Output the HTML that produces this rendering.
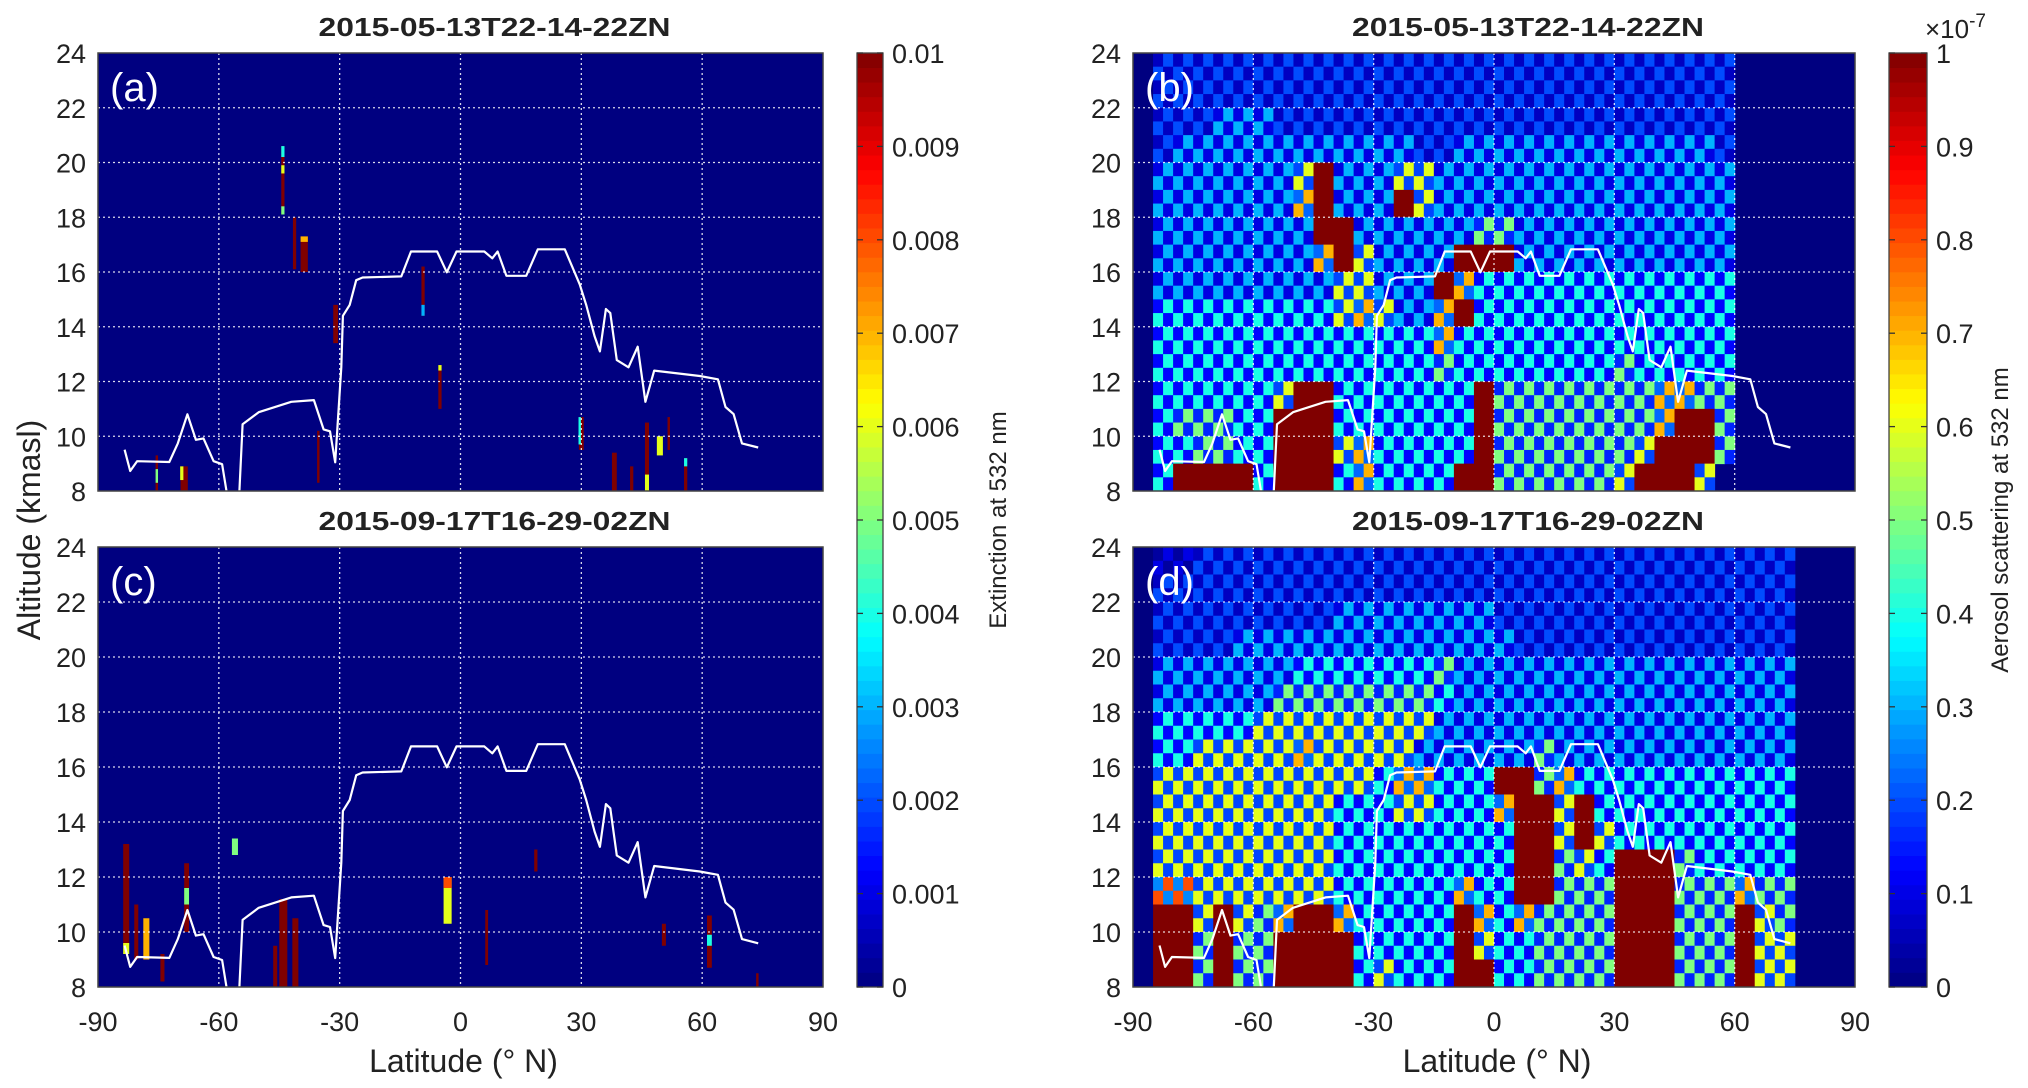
<!DOCTYPE html>
<html><head><meta charset="utf-8"><style>
html,body{margin:0;padding:0;background:#fff}
svg{display:block}
text{font-family:"Liberation Sans",Arial,sans-serif;fill:#222}
</style></head><body>
<svg id="fig" xmlns="http://www.w3.org/2000/svg" width="2028" height="1088" viewBox="0 0 2028 1088">
<defs>
<clipPath id="cpA"><rect x="98" y="53" width="725" height="438"/></clipPath>
<clipPath id="cpB"><rect x="1133" y="53" width="722" height="438"/></clipPath>
<clipPath id="cpC"><rect x="98" y="547" width="725" height="440"/></clipPath>
<clipPath id="cpD"><rect x="1133" y="547" width="722" height="440"/></clipPath>
</defs>
</svg>
<script>
// ---- data ----
const latTicks = [-90,-60,-30,0,30,60,90];
const altTicks = [8,10,12,14,16,18,20,22,24];
const cbTicksA = ["0","0.001","0.002","0.003","0.004","0.005","0.006","0.007","0.008","0.009","0.01"];
const cbTicksB = ["0","0.1","0.2","0.3","0.4","0.5","0.6","0.7","0.8","0.9","1"];
// tropopause line [lat, alt]
const tropLat = [-83.4,-82,-80.3,-72.3,-70.2,-67.8,-65.7,-63.8,-61.3,-59.2,-58.1,-57.5,-55.5,-54.9,-54.1,-50.1,-42,-36.4,-34,-32.4,-31.1,-29.6,-29.2,-27.5,-25.9,-24.3,-14.7,-12.3,-5.8,-3.4,-1,5.9,7.9,9.2,11.4,16.3,19.2,25.9,29.6,31.2,33.3,34.6,36.1,37.2,38.8,41.7,44,45.9,48.1,59.4,63.9,65.8,67.8,69.9,73.9];
const tropAlt = [9.51,8.73,9.09,9.06,9.74,10.8,9.87,9.92,9.09,8.98,8,7.5,7.5,8,10.44,10.88,11.26,11.32,10.25,10.18,9.05,12.52,14.4,14.8,15.7,15.8,15.84,16.75,16.75,15.99,16.75,16.75,16.5,16.75,15.86,15.86,16.83,16.83,15.55,14.8,13.65,13.1,14.65,14.5,12.78,12.52,13.27,11.26,12.4,12.2,12.08,11.07,10.81,9.74,9.59];
// sparse extinction cells [lat, widthDeg, altLow, altHigh, level(0-10)]
const cellsA = [[-44.1,0.8,18.1,20.6,10],[-44.1,0.8,20.2,20.6,4],[-44.1,0.8,19.6,19.9,6],[-44.1,0.8,18.1,18.4,5],[-41.2,0.8,16.1,18,10],[-38.8,1.8,16,17.3,10],[-38.8,1.8,17.1,17.3,7],[-31,1.2,13.4,14.8,10],[-35.3,0.6,8.3,10.2,10],[-9.3,0.8,14.4,16.2,10],[-9.3,0.8,14.4,14.8,3],[-5.1,0.8,11,12.6,10],[-5.1,0.8,12.4,12.6,6],[-75.4,0.6,8,9.3,10],[-75.4,0.6,8.3,8.8,5],[-68.6,1.8,8,8.9,10],[-69.2,0.8,8.4,8.9,6],[30,1.2,9.5,10.7,10],[29.6,0.6,9.7,10.7,4],[38.2,1.2,8,9.4,10],[42.5,0.8,8,8.9,10],[46.3,1,8,10.5,10],[46.3,1,8,8.6,6],[49.5,1.5,9.3,10,6],[51.7,0.6,9.5,10.7,10],[55.9,0.8,8,9.2,10],[55.9,0.8,8.9,9.2,4]];
const cellsC = [[-83,1.5,9.5,13.2,10],[-83,1.5,9.2,9.6,6],[-80.5,1,9,11,10],[-78,1.5,9,10.5,7],[-74,1,8.2,9.2,10],[-68,1.2,10,12.5,10],[-68,1.2,11,11.6,5],[-56,1.5,12.8,13.4,5],[-44,2,8,11.2,10],[-41,1.5,8,10.5,10],[-46,1,8,9.5,10],[-3.2,2,10.3,12,6],[-3.2,2,11.6,12,8],[6.5,0.7,8.8,10.8,10],[18.7,0.8,12.2,13,10],[50.5,1,9.5,10.3,10],[61.8,1.2,8.7,10.6,10],[61.8,1.2,9.5,9.9,4],[73.7,0.6,8,8.5,10]];
// gridded aerosol scattering, rows 24->8 km (1 km), columns from -85 deg, 5 deg; digit = level, X = saturated
const gridB = [
"22222222222222222222222222222",
"22222222222222222222222222222",
"22233322222222222222222222222",
"23333333333332233333333333332",
"33333336X33366333333333333333",
"33333337X333X6333333333333333",
"33333333XX3333335533333333333",
"333333337X63333XXX33333333333",
"33333333366333X74444444444444",
"444444444676337X4444444444444",
"44444444444444744444444444444",
"44444444444444544444444544444",
"4444446XX4444444X555555557755",
"455544XXX4444444X555555557XX5",
"445544XXX6744444X55555556XXX5",
"4XXXX4XXX474444XX5555556XXX6"
];
const gridD = [
"11222222222222222222222222222222",
"22222222222222222222222222222222",
"22222222233333333222222222222222",
"22223333333333333322222222222222",
"33333334444444533333333333333333",
"33333355555555433333333333333333",
"44444666666666333333333333333333",
"44666667666663333335333333333333",
"66666666666477444XX5744444444444",
"666666666444664447XX6X4444444444",
"666666666444444444XX6X6444444444",
"666666666444444444XX564XXX544444",
"886666666444444744XX555XXX555755",
"XX6X657XX744444X7475555XXX555X65",
"XX5X55XXXX44444X6445555XXX555X66",
"XX5X55XXXX46444XX445555XXX555X66"
];
const PANELS = {
 a:{x0:98,x1:823,y0:53,y1:491,clip:"cpA",title:"2015-05-13T22-14-22ZN",tag:"(a)"},
 b:{x0:1133,x1:1855,y0:53,y1:491,clip:"cpB",title:"2015-05-13T22-14-22ZN",tag:"(b)"},
 c:{x0:98,x1:823,y0:547,y1:987,clip:"cpC",title:"2015-09-17T16-29-02ZN",tag:"(c)"},
 d:{x0:1133,x1:1855,y0:547,y1:987,clip:"cpD",title:"2015-09-17T16-29-02ZN",tag:"(d)"}
};
const NS="http://www.w3.org/2000/svg";
const svg=document.getElementById("fig");
function jet(v){v=Math.max(0,Math.min(1,v));
 const c=t=>Math.round(255*Math.max(0,Math.min(1,t)));
 return `rgb(${c(1.5-Math.abs(4*v-3))},${c(1.5-Math.abs(4*v-2))},${c(1.5-Math.abs(4*v-1))})`;}
function el(tag,attrs,parent){const e=document.createElementNS(NS,tag);for(const k in attrs)e.setAttribute(k,attrs[k]);(parent||svg).appendChild(e);return e;}
function txt(x,y,s,size,anchor,extra,parent){const t=el("text",Object.assign({x:x,y:y,"font-size":size,"text-anchor":anchor||"start"},extra||{}),parent);t.textContent=s;return t;}
function xs(p,lat){return p.x0+(lat+90)/180*(p.x1-p.x0);}
function ys(p,alt){return p.y1-(alt-8)/16*(p.y1-p.y0);}

for(const key in PANELS){
 const p=PANELS[key];
 const g=el("g",{});
 
 
 const bg=el("rect",{x:p.x0,y:p.y0,width:p.x1-p.x0,height:p.y1-p.y0,fill:jet(0)},g);
 
 
 const data=el("g",{"clip-path":`url(#${p.clip})`},g);
 
 
 const grid = key==="b"?gridB:key==="d"?gridD:null;
 if(grid){
  grid.forEach((row,r)=>{
   for(let i=0;i<row.length;i++){
    const ch=row[i];
    const la=-85+5*i, altTop=24-r;
    if(ch==="X"){
     const rc=el("rect",{x:xs(p,la),y:ys(p,altTop),width:xs(p,la+5)-xs(p,la)+0.5,height:ys(p,altTop-1)-ys(p,altTop)+0.5,fill:jet(1)},data);
     
     
     continue;
    }
    const v=(+ch)/14;
    if(!(v>0))continue;
    for(let sx=0;sx<2;sx++)for(let sy=0;sy<2;sy++){
     const f=((sx+sy)%2===0)?0.45:1.4;
     const l0=la+2.5*sx, a0=altTop-0.5*sy;
     const rc=el("rect",{x:xs(p,l0),y:ys(p,a0),width:xs(p,l0+2.5)-xs(p,l0)+0.5,height:ys(p,a0-0.5)-ys(p,a0)+0.5,fill:jet(v*f)},data);
     
     
    }
   }
  });
 } else {
  const cells = key==="a"?cellsA:cellsC;
  cells.forEach(c=>{
   const rc=el("rect",{x:xs(p,c[0]-c[1]/2),y:ys(p,c[3]),width:xs(p,c[0]+c[1]/2)-xs(p,c[0]-c[1]/2),height:ys(p,c[2])-ys(p,c[3]),fill:jet(c[4]/10)},data);
   
   
  });
 }
 latTicks.slice(1,-1).forEach(l=>{const ln=el("line",{x1:xs(p,l),x2:xs(p,l),y1:p.y0,y2:p.y1,stroke:"#fff","stroke-width":1.3,"stroke-dasharray":"2,3",opacity:0.85},g);
  });
 altTicks.slice(1,-1).forEach(a=>{const ln=el("line",{x1:p.x0,x2:p.x1,y1:ys(p,a),y2:ys(p,a),stroke:"#fff","stroke-width":1.3,"stroke-dasharray":"2,3",opacity:0.85},g);
  });
 const pts=tropLat.map((l,i)=>xs(p,l).toFixed(1)+","+ys(p,tropAlt[i]).toFixed(1)).join(" ");
 const tl=el("polyline",{points:pts,fill:"none",stroke:"#fff","stroke-width":2.2,"stroke-linejoin":"round","clip-path":`url(#${p.clip})`},g);
 
 
 const fr=el("rect",{x:p.x0,y:p.y0,width:p.x1-p.x0,height:p.y1-p.y0,fill:"none",stroke:"#444","stroke-width":1.5},g);
 
 
 altTicks.forEach(a=>{const t=txt(p.x0-12,ys(p,a)+10,String(a),27,"end",{},g);
  });
 if(key==="c"||key==="d"){
  latTicks.forEach(l=>{const t=txt(xs(p,l),1031,String(l),27,"middle",{},g);
   });
  const xl=txt((p.x0+p.x1)/2+3,1072,"Latitude (° N)",32,"middle",{},g);
  
 }
 const ti=txt((p.x0+p.x1)/2+34,p.y0-17,p.title,26,"middle",{"font-weight":"bold",textLength:352,lengthAdjust:"spacingAndGlyphs",fill:"#111"},g);
 
 const tg=txt(p.x0+12,p.y0+48,p.tag,40,"start",{fill:"#fff",style:"fill:#fff"},g);
 
}
const yl=txt(0,0,"Altitude (kmasl)",32,"middle",{transform:"translate(40,530) rotate(-90)"});



function colorbar(x0,x1,y0,y1,labels,name,title,titleX){
 const g=el("g",{});
 
 
 const n=64,h=(y1-y0)/n;
 for(let i=0;i<n;i++){el("rect",{x:x0,y:y1-(i+1)*h,width:x1-x0,height:h+0.4,fill:jet((i+0.5)/n)},g);}
 el("rect",{x:x0,y:y0,width:x1-x0,height:y1-y0,fill:"none",stroke:"#444","stroke-width":1.3},g);
 labels.forEach((s,i)=>{const y=y1-i/(labels.length-1)*(y1-y0);
  el("line",{x1:x1-6,x2:x1,y1:y,y2:y,stroke:"#333","stroke-width":1.3},g);
  el("line",{x1:x0,x2:x0+6,y1:y,y2:y,stroke:"#333","stroke-width":1.3},g);
  const t=txt(x1+9,y+10,s,27,"start",{},g);
  });
 const t=txt(0,0,title,24,"middle",{transform:`translate(${titleX},${(y0+y1)/2}) rotate(-90)`},g);
 
}
colorbar(857,883,53,987,cbTicksA,"colorbar-extinction","Extinction  at 532 nm",1006);
colorbar(1889,1927,53,987,cbTicksB,"colorbar-scattering","Aerosol scattering at 532 nm",2008);
const ex=el("text",{x:1925,y:38,"font-size":26});


ex.innerHTML='×10<tspan dy="-11" font-size="19">-7</tspan>';
</script>
</body></html>
